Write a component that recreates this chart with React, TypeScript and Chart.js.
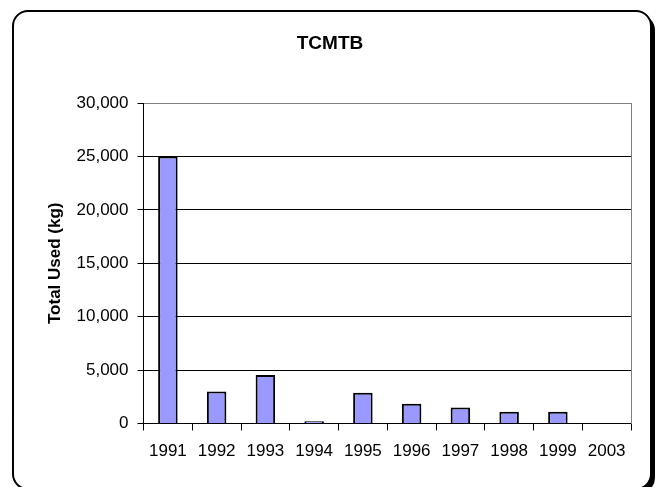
import React, { useEffect, useRef } from "react";
import { Chart, registerables } from "chart.js";

Chart.register(...registerables);

const categories = ["1991", "1992", "1993", "1994", "1995", "1996", "1997", "1998", "1999", "2003"];
const totalUsedKg = [25000, 3000, 4550, 200, 2870, 1860, 1490, 1110, 1110, 0];
const yTicksMax = 30000;
const yTicksStep = 5000;
const chartTitle = "TCMTB";
const yAxisTitle = "Total Used (kg)";

const FONT = "'Liberation Sans', Arial, Helvetica, sans-serif";

const frameBorder = {
  id: "frameBorder",
  beforeDraw(chart: any) {
    const ctx = chart.ctx;
    ctx.save();
    ctx.fillStyle = "#ffffff";
    ctx.fillRect(0, 0, chart.width, chart.height);
    const x = 13, y = 11, w = 638, h = 478, r = 15;
    ctx.fillStyle = "#000000";
    ctx.beginPath();
    ctx.roundRect(x + 4, y + 4, w, h, r);
    ctx.fill();
    ctx.fillStyle = "#ffffff";
    ctx.beginPath();
    ctx.roundRect(x, y, w, h, r);
    ctx.fill();
    ctx.lineWidth = 2;
    ctx.strokeStyle = "#000000";
    ctx.stroke();
    ctx.restore();
  },
};

export default function App() {
  const ref = useRef<HTMLCanvasElement | null>(null);
  useEffect(() => {
    if (!ref.current) return;
    const chart = new Chart(ref.current, {
      type: "bar",
      data: {
        labels: categories,
        datasets: [
          {
            data: totalUsedKg,
            backgroundColor: "#9999FF",
            borderColor: "#000000",
            borderWidth: 2,
            categoryPercentage: 1,
            barPercentage: 0.4,
            yAxisID: "y",
          },
        ],
      },
      plugins: [frameBorder],
      options: {
        animation: false,
        responsive: false,
        maintainAspectRatio: false,
        layout: { padding: 0 },
        plugins: {
          legend: { display: false },
          tooltip: { enabled: false },
          title: {
            display: true,
            text: chartTitle,
            color: "#000000",
            font: { family: FONT, size: 19, weight: "bold" },
            padding: { top: 32.6, bottom: 47.6 },
          },
        },
        scales: {
          x: {
            grid: {
              offset: true,
              drawOnChartArea: false,
              drawTicks: true,
              tickLength: 7,
              tickColor: "#000000",
              color: "#000000",
            },
            border: { display: true, color: "#000000", width: 1 },
            ticks: {
              color: "#000000",
              font: { family: FONT, size: 17 },
              padding: 11,
              maxRotation: 0,
              autoSkip: false,
            },
            afterFit: (s: any) => {
              s.height = 63.5;
            },
          },
          y: {
            position: "left",
            min: 0,
            max: yTicksMax,
            ticks: {
              stepSize: yTicksStep,
              color: "#000000",
              font: { family: FONT, size: 17 },
              padding: 9,
            },
            grid: {
              color: (c: any) => (c.tick && c.tick.value === yTicksMax ? "#808080" : "#000000"),
              lineWidth: 1,
              tickLength: 6,
              tickColor: "#000000",
            },
            border: { display: true, color: "#000000", width: 1 },
            title: {
              display: true,
              text: yAxisTitle,
              color: "#000000",
              font: { family: FONT, size: 17, weight: "bold" },
              padding: { top: 45, bottom: 0 },
            },
            afterFit: (s: any) => {
              s.width = 143.5;
            },
          },
          y2: {
            position: "right",
            min: 0,
            max: 1,
            ticks: { display: false },
            grid: { drawOnChartArea: false, drawTicks: false },
            border: { display: true, color: "#808080", width: 1 },
            afterFit: (s: any) => {
              s.width = 29;
            },
          },
        },
      },
    });
    return () => chart.destroy();
  }, []);
  return (
    <div style={{ position: "fixed", left: 0, top: 0, width: 660, height: 487 }}>
      <canvas ref={ref} width={660} height={487} style={{ display: "block", width: 660, height: 487 }} />
    </div>
  );
}
